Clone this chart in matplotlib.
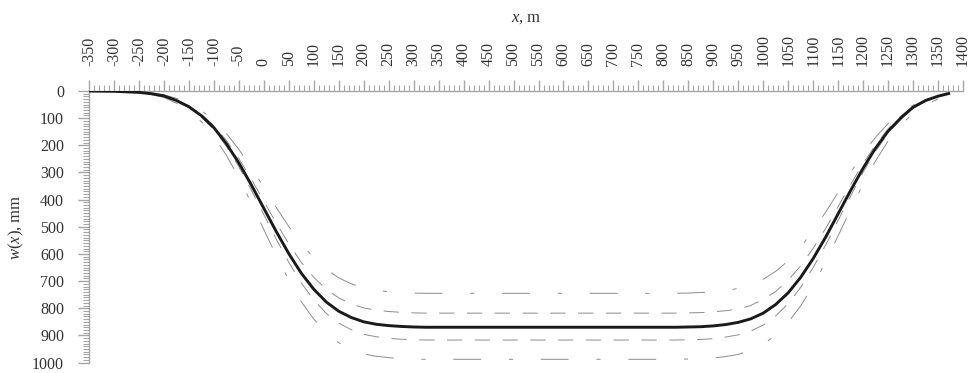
#!/usr/bin/env python3

import matplotlib
matplotlib.use("Agg")
import matplotlib.pyplot as plt
from matplotlib.ticker import MultipleLocator

plt.rcParams["font.family"] = ["Liberation Serif", "DejaVu Serif"]
plt.rcParams["mathtext.fontset"] = "custom"
plt.rcParams["mathtext.rm"] = "Liberation Serif"
plt.rcParams["mathtext.it"] = "Liberation Serif:italic"
plt.rcParams["axes.unicode_minus"] = False
plt.rcParams["lines.scale_dashes"] = False

# subsidence profile w(x), mm
X_MAIN = [-350, -300, -250, -225, -200, -175, -150, -125, -100, -75, -50, -25, 0,
          25, 50, 75, 100, 125, 150, 175, 200, 225, 250, 275, 300, 325, 350,
          800, 825, 850, 875, 900, 925, 950, 975, 1000, 1025, 1050, 1075, 1100,
          1125, 1150, 1175, 1200, 1225, 1250, 1275, 1300, 1325, 1350, 1374]
W_MAIN = [0, 1, 5, 10, 18, 35, 58, 91, 135, 194, 265, 346, 432,
          518, 599, 671, 730, 777, 811, 834, 850, 859, 864, 867, 869, 870, 870,
          870, 870, 869, 868, 865, 860, 852, 839, 818, 786, 743, 686, 617,
          538, 452, 366, 284, 210, 148, 100, 60, 35, 19, 8]

# bands (x grid is the same, without the ends)
X_BAND = [-225, -200, -175, -150, -125, -100, -75, -50, -25, 0,
          25, 50, 75, 100, 125, 150, 175, 200, 225, 250, 275, 300, 325, 350,
          800, 825, 850, 875, 900, 925, 950, 975, 1000, 1025, 1050, 1075, 1100,
          1125, 1150, 1175, 1200, 1225, 1250, 1275, 1300, 1325, 1350]
W_INNER_UP = [9, 17, 33, 55, 86, 127, 182, 249, 325, 406,
              487, 563, 631, 686, 730, 762, 784, 799, 807, 812, 815, 817, 818, 818,
              818, 818, 817, 816, 813, 809, 803, 790, 767, 738, 696, 644, 579,
              506, 425, 344, 267, 198, 140, 93, 56, 33, 18]
W_INNER_LOW = [11, 19, 37, 61, 96, 142, 204, 279, 365, 455,
               546, 631, 707, 769, 819, 855, 879, 896, 905, 911, 914, 916, 917, 917,
               917, 917, 916, 915, 912, 906, 898, 884, 862, 828, 783, 723, 650,
               567, 476, 386, 299, 221, 156, 105, 63, 37, 20]
W_OUTER_UP = [8, 14, 27, 46, 72, 108, 156, 215, 282, 355,
              429, 499, 562, 615, 657, 688, 710, 725, 734, 739, 742, 744, 745, 745,
              745, 745, 744, 742, 740, 735, 727, 714, 693, 664, 625, 575, 514,
              446, 373, 300, 231, 170, 120, 81, 52, 32, 17]
W_OUTER_LOW = [13, 24, 45, 73, 113, 167, 237, 319, 413, 510,
               607, 697, 776, 840, 890, 927, 951, 968, 977, 982, 985, 987, 988, 988,
               988, 988, 987, 986, 983, 978, 970, 955, 933, 899, 852, 791, 716,
               629, 533, 436, 342, 257, 184, 126, 83, 52, 29]

AXIS_GRAY = "#a6a6a6"
BAND_GRAY = "#8c8c8c"

fig = plt.figure(figsize=(9.7, 3.73), dpi=100)
ax = fig.add_axes([0.0918, 0.028, 0.9010, 0.728])

for w in (W_OUTER_UP, W_OUTER_LOW):
    ax.plot(X_BAND, w, color=BAND_GRAY, linewidth=0.7,
            linestyle=(0, (20, 20, 3, 20)), zorder=2)
for w in (W_INNER_UP, W_INNER_LOW):
    ax.plot(X_BAND, w, color=BAND_GRAY, linewidth=0.7,
            linestyle=(0, (11, 9)), zorder=2)
ax.plot(X_MAIN, W_MAIN, color="#1a1a1a", linewidth=2.1, zorder=3,
        solid_capstyle="butt")

ax.set_xlim(-350, 1400)
ax.set_ylim(1000, 0)

ax.xaxis.tick_top()
ax.xaxis.set_label_position("top")
ax.xaxis.set_major_locator(MultipleLocator(50))
ax.xaxis.set_minor_locator(MultipleLocator(10))
ax.yaxis.set_major_locator(MultipleLocator(100))
ax.yaxis.set_minor_locator(MultipleLocator(10))

for side in ("right", "bottom"):
    ax.spines[side].set_visible(False)
for side in ("top", "left"):
    ax.spines[side].set_color(AXIS_GRAY)
    ax.spines[side].set_linewidth(1.0)

ax.tick_params(axis="both", which="major", length=8, width=1.0,
               color=AXIS_GRAY, labelsize=11.5, labelcolor="#333333", pad=10)
ax.tick_params(axis="both", which="minor", length=4.5, width=0.8,
               color=AXIS_GRAY)
ax.tick_params(axis="x", which="major", labelrotation=90)

ax.set_xlabel(r"$x$, m", fontsize=12, color="#333333", labelpad=9)
ax.set_ylabel(r"$w$($x$), mm", fontsize=12, color="#333333", labelpad=4)

fig.savefig("out.png", dpi=100)
